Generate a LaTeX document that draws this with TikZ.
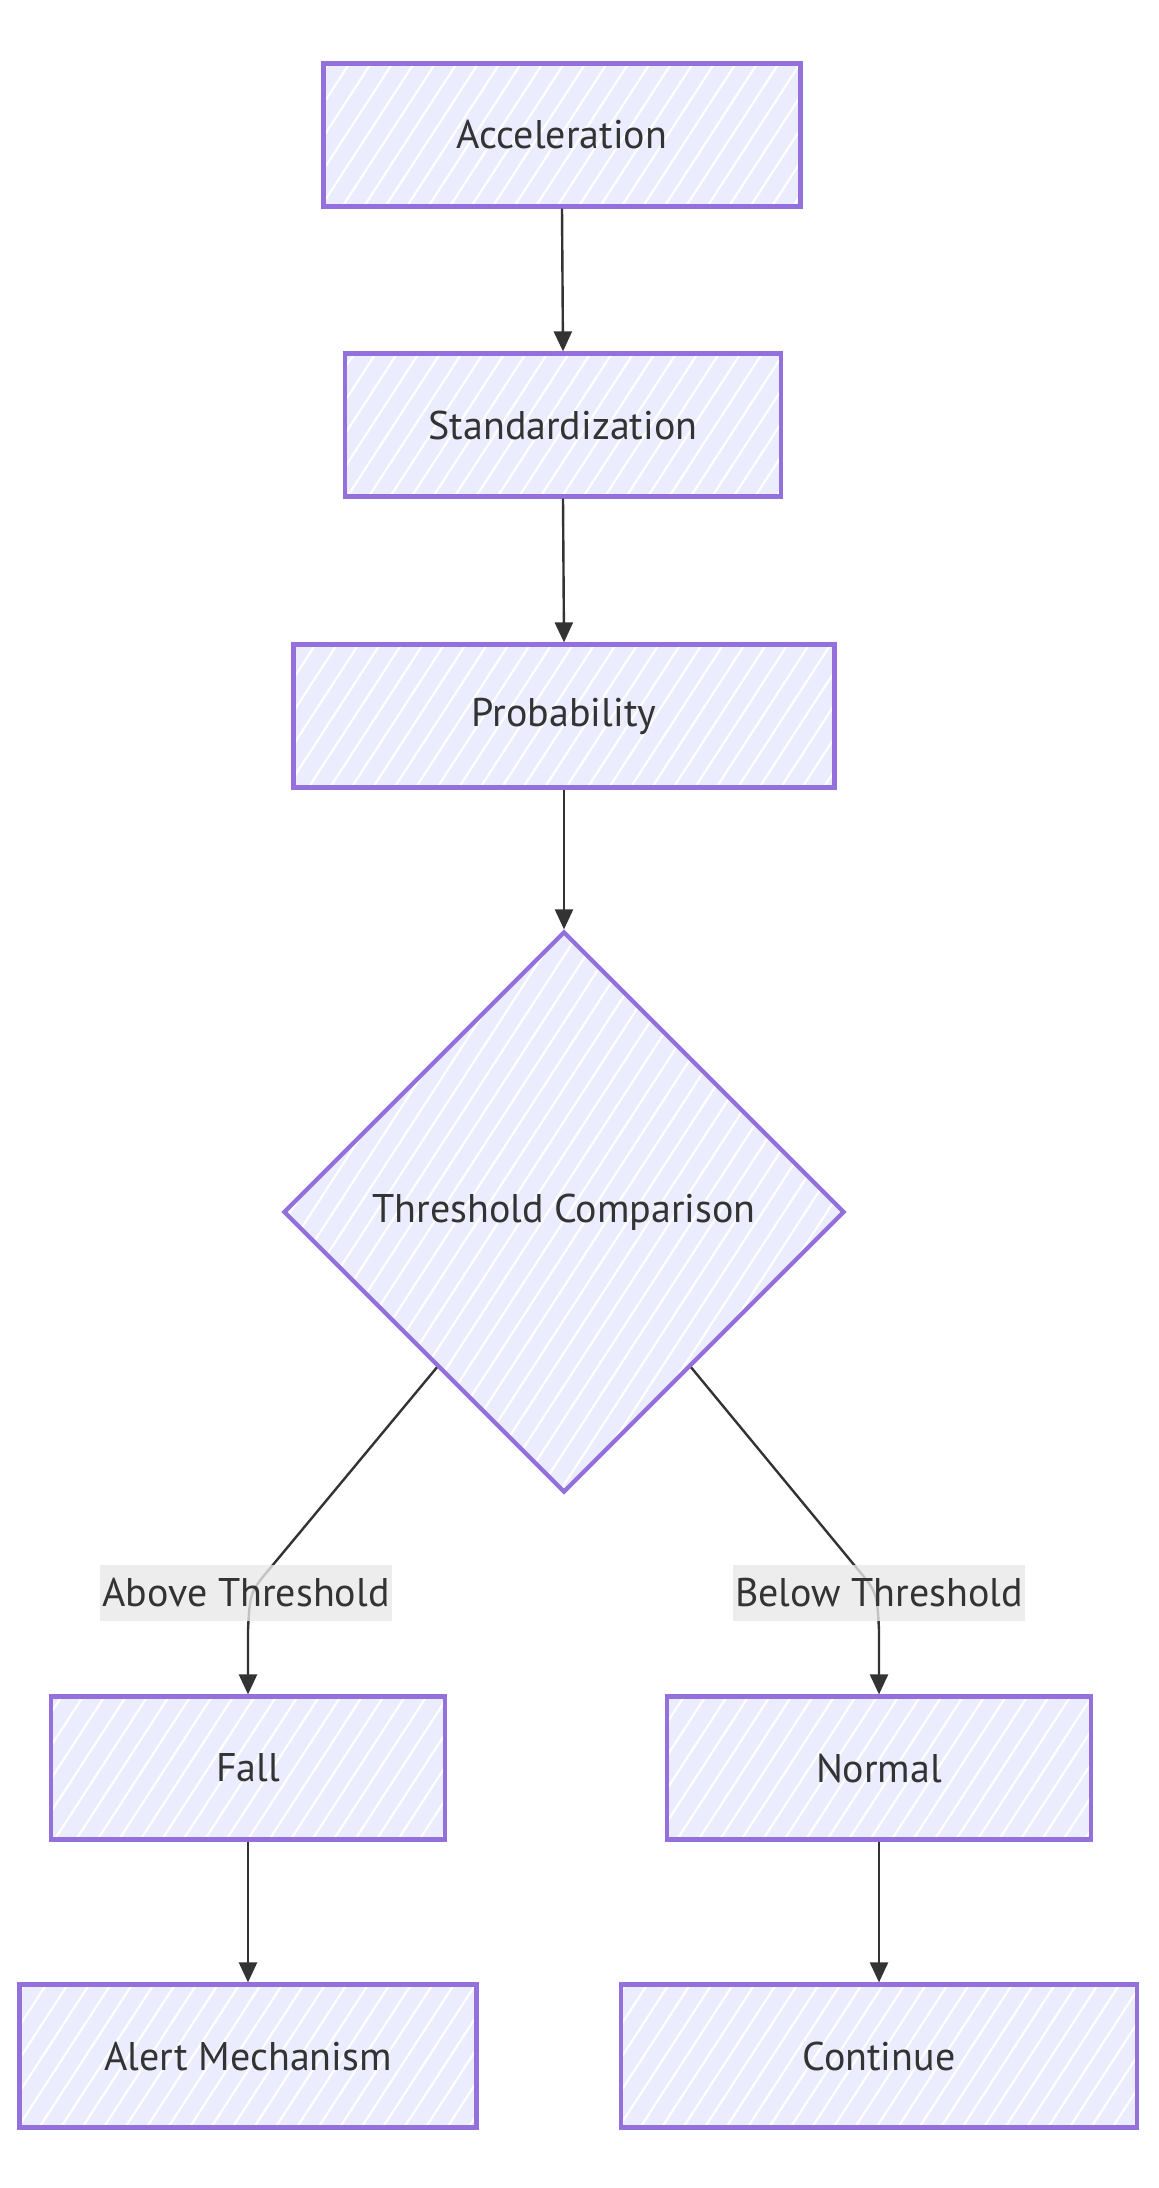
\documentclass[tikz,border=0pt]{standalone}
\usepackage{fontspec}
\setmainfont{PT Sans}
\usetikzlibrary{shapes.geometric,arrows.meta,patterns.meta,calc}
\definecolor{boxfill}{HTML}{ECECFF}
\definecolor{boxline}{HTML}{9370DB}
\definecolor{edgecol}{HTML}{333333}
\definecolor{lblbg}{HTML}{E8E8E8}
\begin{document}
\begin{tikzpicture}[x=0.5pt,y=-0.5pt,
  hatch/.style={preaction={fill=boxfill},
    pattern={Lines[angle=57,distance=9pt,line width=1.1pt]}, pattern color=white},
  box/.style={hatch, draw=boxline, line width=2.1pt, rectangle, inner sep=0pt,
    minimum height=71.5pt, text=edgecol, font=\fontsize{20}{24}\selectfont},
  dia/.style={hatch, draw=boxline, line width=2.1pt, diamond, aspect=1, inner sep=0pt,
    minimum width=280.5pt, minimum height=280.5pt, text=edgecol, font=\fontsize{20}{24}\selectfont},
  edge/.style={draw=edgecol, line width=1.2pt, -{Triangle[length=10pt,width=9pt]}},
  lbl/.style={fill=lblbg, fill opacity=0.8, text opacity=1, text=edgecol, inner xsep=1pt,
    inner ysep=0pt, minimum height=28pt, font=\fontsize{20}{24}\selectfont}
]
\useasboundingbox (0,0) rectangle (1158,2188);
\node[box, minimum width=238.5pt] (acc) at (562,135) {Acceleration};
\node[box, minimum width=218pt] (std) at (563,425) {Standardization};
\node[box, minimum width=270.5pt] (prob) at (564,716) {Probability};
\node[dia] (thr) at (564,1212) {Threshold Comparison};
\node[box, minimum width=197pt] (fall) at (248,1768) {Fall};
\node[box, minimum width=212pt] (norm) at (879,1768) {Normal};
\node[box, minimum width=228.5pt] (alert) at (248,2056) {Alert Mechanism};
\node[box, minimum width=258pt] (cont) at (879,2056) {Continue};

\draw[edge] (acc.south) -- (std.north);
\draw[edge] (std.south) -- (prob.north);
\draw[edge] (prob.south) -- (thr.north);

\coordinate (ls) at ($(thr.west)!0.55!(thr.south)$);
\coordinate (lb) at (272,1566);
\coordinate (lv) at (248,1630);
\coordinate (rs) at ($(thr.east)!0.55!(thr.south)$);
\coordinate (rb) at (855,1566);
\coordinate (rv) at (879,1630);
\draw[edge] (ls) -- (lb) .. controls (250,1592) .. (lv) -- (fall.north);
\draw[edge] (rs) -- (rb) .. controls (877,1592) .. (rv) -- (norm.north);
\node[lbl] (la) at (246,1593) {Above Threshold};
\node[lbl] (lr) at (879,1593) {Below Threshold};

\draw[edge] (fall.south) -- (alert.north);
\draw[edge] (norm.south) -- (cont.north);
\end{tikzpicture}
\end{document}
